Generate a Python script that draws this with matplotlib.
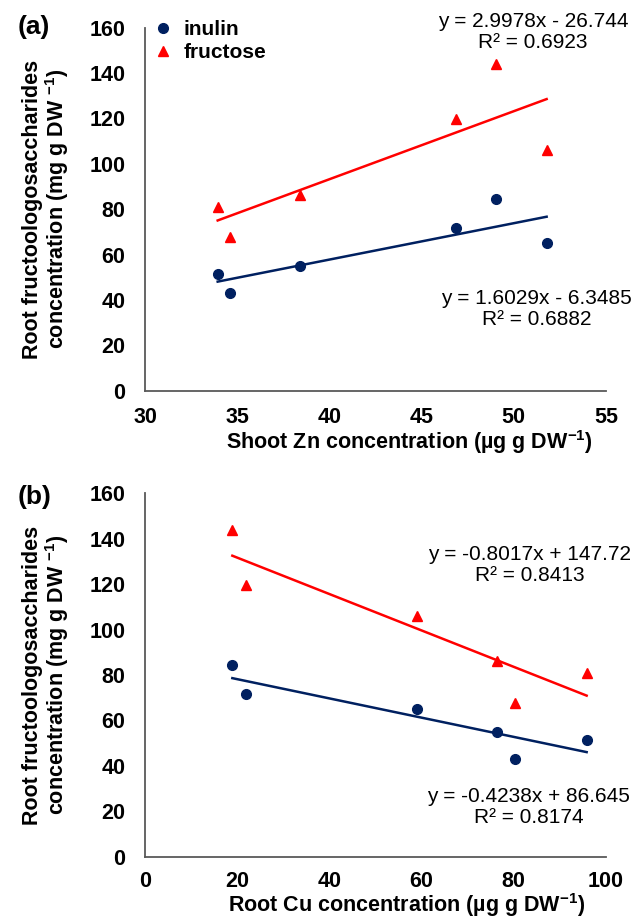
import matplotlib
matplotlib.use('Agg')
import matplotlib.pyplot as plt
import numpy as np

plt.rcParams['font.family'] = ['Liberation Sans', 'DejaVu Sans']
plt.rcParams['mathtext.fontset'] = 'custom'
plt.rcParams['mathtext.rm'] = 'Liberation Sans'
plt.rcParams['mathtext.bf'] = 'Liberation Sans:bold'

# sample values (same six samples in both panels)
shoot_zn = [33.94, 34.61, 38.41, 46.87, 49.03, 51.78]
root_cu = [95.8, 80.2, 76.4, 21.84, 18.94, 58.9]
inulin = [51.5, 43.0, 55.0, 71.6, 84.5, 64.9]
fructose = [80.9, 67.5, 86.2, 119.7, 143.8, 106.1]

# trendline coefficients (slope, intercept) as printed on the chart
fit_a = {'inulin': (1.6029, -6.3485), 'fructose': (2.9978, -26.744)}
fit_b = {'inulin': (-0.4238, 86.645), 'fructose': (-0.8017, 147.72)}
r2_a = {'inulin': 0.6882, 'fructose': 0.6923}
r2_b = {'inulin': 0.8174, 'fructose': 0.8413}

x_ticks_a = [30, 35, 40, 45, 50, 55]
x_ticks_b = [0, 20, 40, 60, 80, 100]
y_ticks = [0, 20, 40, 60, 80, 100, 120, 140, 160]

NAVY = '#002060'
RED = '#FF0000'
AXC = '#595959'


def eq_text(slope, icpt, r2):
    sign = '+' if icpt >= 0 else '-'
    return f"y = {slope:.4f}x {sign} {abs(icpt):g}\nR\u00b2 = {r2:.4f}"


def style_axes(ax, xlim, xticks, xlabel, xlabel_xy, xpad):
    ax.set_xlim(xlim)
    ax.set_ylim(0, 160)
    ax.set_xticks(xticks)
    ax.set_yticks(y_ticks)
    for s in ['top', 'right']:
        ax.spines[s].set_visible(False)
    for s in ['left', 'bottom']:
        ax.spines[s].set_color(AXC)
        ax.spines[s].set_linewidth(1.3)
    ax.tick_params(length=0, labelsize=15.5)
    ax.tick_params(axis='y', pad=14)
    ax.tick_params(axis='x', pad=xpad)
    for lab in ax.get_xticklabels() + ax.get_yticklabels():
        lab.set_fontweight('bold')
    ax.set_xlabel(xlabel, fontsize=15.5, fontweight='bold')
    ax.xaxis.set_label_coords(*xlabel_xy)
    ax.set_ylabel('Root fructoologosaccharides\nconcentration (mg g DW $^{\\mathbf{-1}}$)',
                  fontsize=15.5, fontweight='bold', linespacing=1.0)
    ax.yaxis.set_label_coords(-0.160, 0.5)


def draw_panel(ax, x, fits, r2s, eq_pos):
    for name, color, marker, ms in [('inulin', NAVY, 'o', 7), ('fructose', RED, '^', 7)]:
        yv = inulin if name == 'inulin' else fructose
        ax.plot(x, yv, linestyle='none', marker=marker, color=color, ms=ms, label=name,
                clip_on=False, zorder=3)
        m, b = fits[name]
        xs = np.array([min(x), max(x)])
        ax.plot(xs, m * xs + b, color=color, lw=1.8, zorder=2)
        ex, ey = eq_pos[name]
        ax.text(ex, ey, eq_text(m, b, r2s[name]), ha='center', va='center',
                fontsize=15, linespacing=1.15, clip_on=False)


fig = plt.figure(figsize=(6.44, 9.18), dpi=100)
ax1 = fig.add_axes([0.2252, 0.5744, 0.7158, 0.3956])
ax2 = fig.add_axes([0.2252, 0.0668, 0.7158, 0.3958])

draw_panel(ax1, shoot_zn, fit_a, r2_a, {'fructose': (51.04, 158.2), 'inulin': (51.24, 36.0)})
draw_panel(ax2, root_cu, fit_b, r2_b, {'fructose': (83.5, 128.6), 'inulin': (83.2, 21.9)})

style_axes(ax1, (30, 55), x_ticks_a, 'Shoot Zn concentration (\u00b5g g DW$^{\\mathbf{-1}}$)',
           (0.573, -0.103), 12)
style_axes(ax2, (0, 100), x_ticks_b, 'Root Cu concentration (\u00b5g g DW$^{\\mathbf{-1}}$)',
           (0.568, -0.094), 10)

ax1.legend(loc='upper left', bbox_to_anchor=(0.02, 1.02), frameon=False,
           prop={'size': 15, 'weight': 'bold'}, handlelength=0.8, handletextpad=0.6,
           labelspacing=0.2, borderpad=0, borderaxespad=0)

fig.text(0.053, 0.9706, '(a)', fontsize=19, fontweight='bold', ha='center', va='center')
fig.text(0.053, 0.4586, '(b)', fontsize=19, fontweight='bold', ha='center', va='center')

plt.savefig('out.png', dpi=100)
